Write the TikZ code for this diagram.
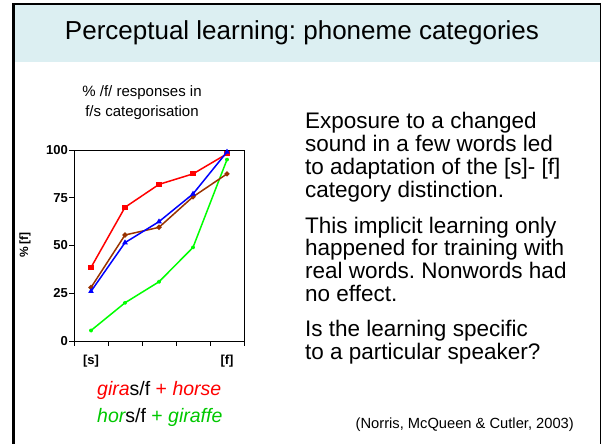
\documentclass[tikz,border=0pt]{standalone}
\usepackage{fontspec}
\setmainfont{Liberation Sans}
\usetikzlibrary{positioning,plotmarks}
\definecolor{titleband}{RGB}{220,239,242}
\definecolor{rust}{RGB}{153,51,0}
\definecolor{lime}{RGB}{0,255,0}
\definecolor{leaf}{RGB}{0,200,0}
\frenchspacing

\begin{document}
\begin{tikzpicture}[x=1pt,y=-1pt,
    ticklabel/.style={font=\bfseries\fontsize{13}{13}\selectfont,inner sep=1pt},
    body/.style={anchor=base west,align=left,inner sep=0pt,font=\fontsize{22.5}{22.8}\selectfont},
    series/.style={line width=1.5pt,mark size=1.8pt,mark options={solid}},
    legend/.style={anchor=west,inner sep=0pt,font=\fontsize{19.5}{20}\selectfont}]
    \useasboundingbox (0,0) rectangle (602,444);

    % The frame
    \fill[titleband] (15,5) rectangle (600,62);
    \draw[line width=3pt] (13.5,444) -- (13.5,3);
    \draw[line width=2pt] (12,4) -- (600.5,4);
    \draw[line width=1pt] (600,3) -- (600,444);
    \node (title) at (302,33) {\fontsize{26}{26}\selectfont Perceptual learning: phoneme categories};

    % The chart
    \node[align=center,font=\fontsize{15}{20}\selectfont] (charttitle) at (142,103) {\% /f/ responses in\\f/s categorisation};
    \node[rotate=90,font=\bfseries\fontsize{12}{12}\selectfont] (ylabel) at (25,245) {\% [f]};
    \begin{scope}[shift={(74,341)},y=1.91pt]
        \draw[line width=0.8pt] (0,0) rectangle (170,100);
        \foreach \v in {0,25,50,75,100} {
            \draw[line width=0.8pt] (0,\v) -- (-5,\v);
            \node[ticklabel,anchor=east] (tick\v) at (-5,\v) {\v};
        }
        \foreach \k in {0,...,5}
            \draw[line width=0.8pt] (34*\k,0) -- ++(0pt,-5pt);
        \node[ticklabel,anchor=north] (sound s) at (17,-7) {[s]};
        \node[ticklabel,anchor=north] (sound f) at (153,-7) {[f]};

        % Graph series
        \draw[series,lime,mark=asterisk] plot coordinates {(17,5.5) (51,20) (85,31) (119,49) (153,95)};
        \draw[series,rust,mark=*] plot coordinates {(17,28) (51,55.5) (85,59.5) (119,75.5) (153,87.5)};
        \draw[series,red,mark=square*] plot coordinates {(17,38.5) (51,70) (85,82) (119,87.5) (153,98)};
        \draw[series,blue,mark=triangle*] plot coordinates {(17,26) (51,51.5) (85,62.5) (119,77) (153,99)};
    \end{scope}

    % Legend
    \node[legend] (giras) at (97,390) {\textcolor{red}{\itshape gira}s/f \textcolor{red}{+ \itshape horse}};
    \node[legend] (hors) at (97,417) {\textcolor{leaf}{\itshape hor}s/f \textcolor{leaf}{+ \itshape giraffe}};

    % The text
    \node[body] (exposure) at (305,197) {Exposure to a changed\\sound in a few words led\\to adaptation of the [s]- [f]\\category distinction.};
    \node[body] (implicit) at (305,301.4) {This implicit learning only\\happened for training with\\real words. Nonwords had\\no effect.};
    \node[body] (speaker) at (305,359) {Is the learning specific\\to a particular speaker?};
    \node[anchor=base east,inner sep=0pt,font=\fontsize{14.7}{15}\selectfont] (citation) at (574,428) {(Norris, McQueen \& Cutler, 2003)};
\end{tikzpicture}
\end{document}
